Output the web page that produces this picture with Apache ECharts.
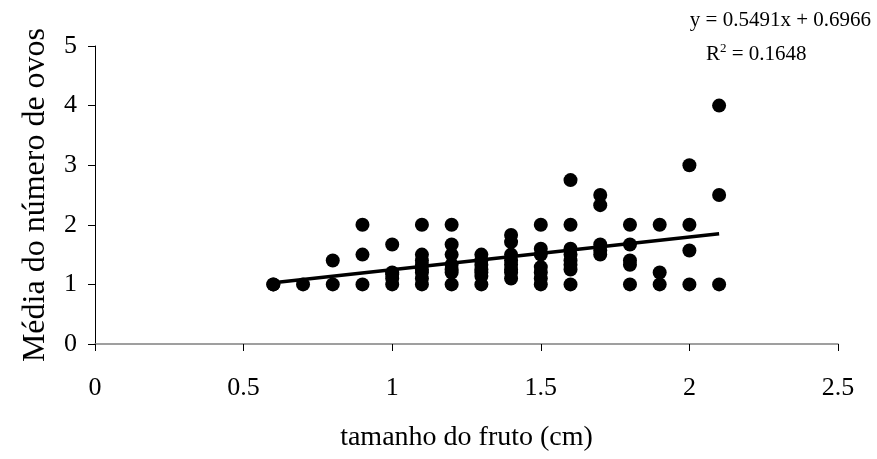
<!DOCTYPE html>
<html>
<head>
<meta charset="utf-8">
<script src="https://cdn.jsdelivr.net/npm/echarts@6/dist/echarts.min.js"></script>
<style>html,body{margin:0;padding:0;background:#fff;}#c{width:877px;height:459px;}</style>
</head>
<body>
<div id="c"></div>
<script>
// Data: fruit size (cm) and mean number of eggs
const x06 = [1, 1];
const x07 = [1];
const x08 = [1, 1.4];
const x09 = [1, 1.5, 2];
const x10 = [1, 1.1, 1.17, 1.2, 1.67];
const x11 = [1, 1.1, 1.2, 1.25, 1.33, 1.4, 1.5, 2];
const x12 = [1, 1.2, 1.25, 1.33, 1.5, 1.67, 2];
const x13 = [1, 1.14, 1.2, 1.25, 1.33, 1.4, 1.5];
const x14 = [1.1, 1.2, 1.25, 1.33, 1.4, 1.5, 1.71, 1.83];
const x15 = [1, 1.1, 1.2, 1.29, 1.5, 1.6, 2];
const x16 = [1, 1.25, 1.33, 1.4, 1.5, 1.6, 2, 2.75];
const x17 = [1.5, 1.57, 1.67, 2.33, 2.5];
const x18 = [1, 1.33, 1.4, 1.67, 2];
const x19 = [1, 1.2, 2];
const x20 = [1, 1.57, 2, 3];
const x21 = [1, 2.5, 4];
const sizes = [0.6, 0.7, 0.8, 0.9, 1.0, 1.1, 1.2, 1.3, 1.4, 1.5, 1.6, 1.7, 1.8, 1.9, 2.0, 2.1];
const means = [x06, x07, x08, x09, x10, x11, x12, x13, x14, x15, x16, x17, x18, x19, x20, x21];
// Trend line endpoints (as drawn)
const trendX = [0.6, 2.1];
const trendY = [1.026, 1.85];
const xTicks = ['0', '0.5', '1', '1.5', '2', '2.5'];
const yTicks = ['0', '1', '2', '3', '4', '5'];
const eqText = 'y = 0.5491x + 0.6966';
const r2Value = '0.1648';

const points = [];
sizes.forEach((s, i) => means[i].forEach(v => points.push([s, v])));
const trend = trendX.map((x, i) => [x, trendY[i]]);

const FONT = '"Liberation Serif", "Times New Roman", serif';
const chart = echarts.init(document.getElementById('c'));
chart.setOption({
  backgroundColor: '#fff',
  animation: false,
  grid: { left: 95, right: 39, top: 46, bottom: 115 },
  xAxis: {
    type: 'value', min: 0, max: 2.5, interval: 0.5,
    name: 'tamanho do fruto (cm)', nameLocation: 'middle', nameGap: 80,
    nameTextStyle: { fontFamily: FONT, fontSize: 28, color: '#000' },
    axisLine: { onZero: false, lineStyle: { color: '#808080', width: 1.5 } },
    axisTick: { show: true, length: 7, lineStyle: { color: '#000' } },
    axisLabel: { fontFamily: FONT, fontSize: 26, color: '#000', margin: 31,
      formatter: v => xTicks[Math.round(v / 0.5)] },
    splitLine: { show: false }
  },
  yAxis: {
    type: 'value', min: 0, max: 5, interval: 1,
    name: 'Média do número de ovos', nameLocation: 'middle', nameGap: 43,
    nameTextStyle: { fontFamily: FONT, fontSize: 32, color: '#000' },
    axisLine: { show: true, lineStyle: { color: '#000', width: 1 } },
    axisTick: { show: true, length: 7, lineStyle: { color: '#000' } },
    axisLabel: { fontFamily: FONT, fontSize: 26, color: '#000', margin: 18,
      formatter: v => yTicks[Math.round(v)] },
    splitLine: { show: false }
  },
  series: [
    { type: 'scatter', data: points, symbol: 'circle', symbolSize: 14,
      itemStyle: { color: '#000', opacity: 1 }, z: 3 },
    { type: 'line', data: trend, symbol: 'none',
      lineStyle: { color: '#000', width: 3.5 }, z: 4 }
  ],
  graphic: [
    { type: 'text', right: 6, top: 10,
      style: { text: eqText, font: '21px ' + FONT, fill: '#000' } },
    { type: 'text', left: 706, top: 42,
      style: { text: '{a|R}{s|2}{a| = ' + r2Value + '}',
        rich: { a: { fontFamily: FONT, fontSize: 21, color: '#000', verticalAlign: 'bottom' },
                s: { fontFamily: FONT, fontSize: 13, color: '#000', verticalAlign: 'top', padding: [0, 0, 10, 0] } } } }
  ]
});
</script>
</body>
</html>
